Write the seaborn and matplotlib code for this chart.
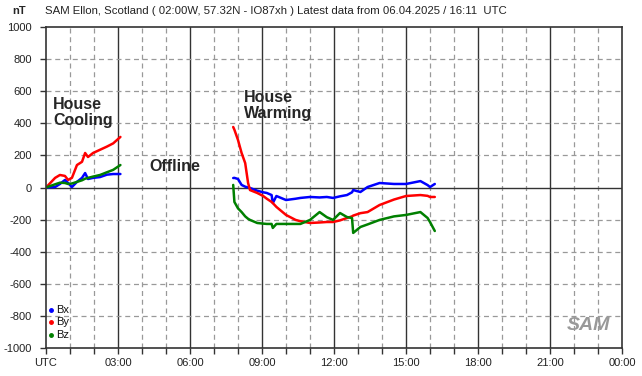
import matplotlib
matplotlib.use("Agg")
import matplotlib.pyplot as plt
import numpy as np
import pandas as pd
import seaborn as sns

# hours UTC, nT
COOL_T = [0.0, 0.38, 0.58, 0.79, 0.92, 1.08, 1.29, 1.5, 1.63, 1.75, 1.96, 2.25, 2.54, 2.8, 3.1]
COOL_BX = [0, 3, 22, 47, 28, 3, 35, 60, 90, 53, 60, 65, 80, 84, 84]
COOL_BY = [0, 60, 78, 72, 47, 60, 140, 160, 215, 190, 215, 235, 255, 275, 315]
COOL_BZ = [0, 20, 30, 28, 22, 25, 35, 45, 55, 60, 68, 78, 95, 110, 140]

WARM_T = [7.8, 7.85, 8.0, 8.15, 8.3, 8.42, 8.5, 8.8, 9.05, 9.2, 9.4, 9.45, 9.6, 10.0, 10.4,
          10.6, 11.0, 11.4, 11.7, 11.96, 12.25, 12.54, 12.75, 12.8, 13.1, 13.4, 13.9,
          14.5, 15.0, 15.6, 15.9, 16.0, 16.2]
WARM_BX = [59, 60, 53, 16, 5, 0, -3, -20, -30, -34, -47, -97, -53, -78, -70,
           -65, -59, -62, -59, -65, -55, -47, -30, -16, -28, 3, 28,
           22, 22, 40, 15, 3, 22]
WARM_BY = [377, 360, 296, 215, 152, 28, -16, -34, -53, -70, -90, -97, -121, -171, -202,
           -210, -221, -218, -215, -215, -205, -190, -180, -175, -160, -153, -109,
           -75, -53, -47, -52, -59, -59]
WARM_BZ = [16, -90, -130, -153, -180, -195, -202, -221, -225, -227, -227, -252, -227, -227, -227,
           -227, -202, -153, -185, -202, -159, -184, -190, -283, -246, -230, -202,
           -180, -171, -153, -190, -215, -271]

HOUR_LABELS = ["UTC", "03:00", "06:00", "09:00", "12:00", "15:00", "18:00", "21:00", "00:00"]
COLORS = {"Bx": "#0000ff", "By": "#ff0000", "Bz": "#008000"}


def build_frame() -> pd.DataFrame:
    rows = []
    for seg, t, comps in [
        ("cool", COOL_T, {"Bx": COOL_BX, "By": COOL_BY, "Bz": COOL_BZ}),
        ("warm", WARM_T, {"Bx": WARM_BX, "By": WARM_BY, "Bz": WARM_BZ}),
    ]:
        for name, vals in comps.items():
            for ti, vi in zip(t, vals):
                rows.append({"hour": ti, "nT": vi, "comp": name, "seg": seg})
    return pd.DataFrame(rows)


def main() -> None:
    sns.set_style("white")
    plt.rcParams["font.family"] = ["Liberation Sans", "DejaVu Sans"]
    df = build_frame()

    fig = plt.figure(figsize=(6.42, 3.76), dpi=100)
    ax = fig.add_axes([46 / 642, 28 / 376, 576 / 642, 321 / 376])

    # grid
    for h in range(1, 24):
        if h % 3:
            ax.axvline(h, color="#999999", lw=0.9, ls=(0, (4, 3)), zorder=0)
        else:
            ax.axvline(h, color="#333333", lw=1.0, zorder=0)
    for v in range(-800, 1000, 200):
        if v == 0:
            ax.axhline(v, color="#333333", lw=1.0, zorder=0)
        else:
            ax.axhline(v, color="#999999", lw=0.9, ls=(0, (4, 3)), zorder=0)

    sns.lineplot(data=df, x="hour", y="nT", hue="comp", units="seg", estimator=None,
                 palette=COLORS, lw=1.8, legend=False, ax=ax, sort=False)

    ax.set_xlim(0, 24)
    ax.set_ylim(-1000, 1000)
    ax.set_xticks(np.arange(0, 25, 3))
    ax.set_xticklabels(HOUR_LABELS, fontsize=8, color="#222222")
    ax.set_xticks(np.arange(0, 25, 1), minor=True)
    ax.set_yticks(np.arange(-1000, 1001, 200))
    ax.set_yticklabels([str(v) for v in range(-1000, 1001, 200)], fontsize=8, color="#222222")
    ax.tick_params(axis="both", which="both", direction="out", length=4, width=1,
                   color="#333333", bottom=True, left=True)
    ax.tick_params(axis="x", pad=3)
    ax.tick_params(axis="y", pad=6)
    ax.set_xlabel("")
    ax.set_ylabel("")
    for s in ax.spines.values():
        s.set_color("#333333")
        s.set_linewidth(1.2)

    fig.text(12 / 642, 1 - 11 / 376, "nT", fontsize=8, fontweight="bold", va="center")
    fig.text(45 / 642, 1 - 11 / 376,
             "SAM Ellon, Scotland ( 02:00W, 57.32N - IO87xh ) Latest data from 06.04.2025 / 16:11  UTC",
             fontsize=8.2, va="center", color="#222222")

    ax.text(0.3, 565, "House\nCooling", fontsize=11.5, fontweight="bold", va="top", linespacing=1.1)
    ax.text(4.3, 130, "Offline", fontsize=11.5, fontweight="bold", va="center")
    ax.text(8.25, 610, "House\nWarming", fontsize=11.5, fontweight="bold", va="top", linespacing=1.1)

    # legend
    for i, name in enumerate(["Bx", "By", "Bz"]):
        y = -763 - i * 78
        ax.plot([0.2], [y], marker="o", ms=2.5, color=COLORS[name])
        ax.text(0.42, y, name, fontsize=8, va="center", color="#111111")

    ax.text(22.6, -860, "SAM", fontsize=14, fontstyle="italic", fontweight="bold",
            color="#999999", ha="center", va="center")

    fig.savefig("out.png", dpi=100)


if __name__ == "__main__":
    main()
